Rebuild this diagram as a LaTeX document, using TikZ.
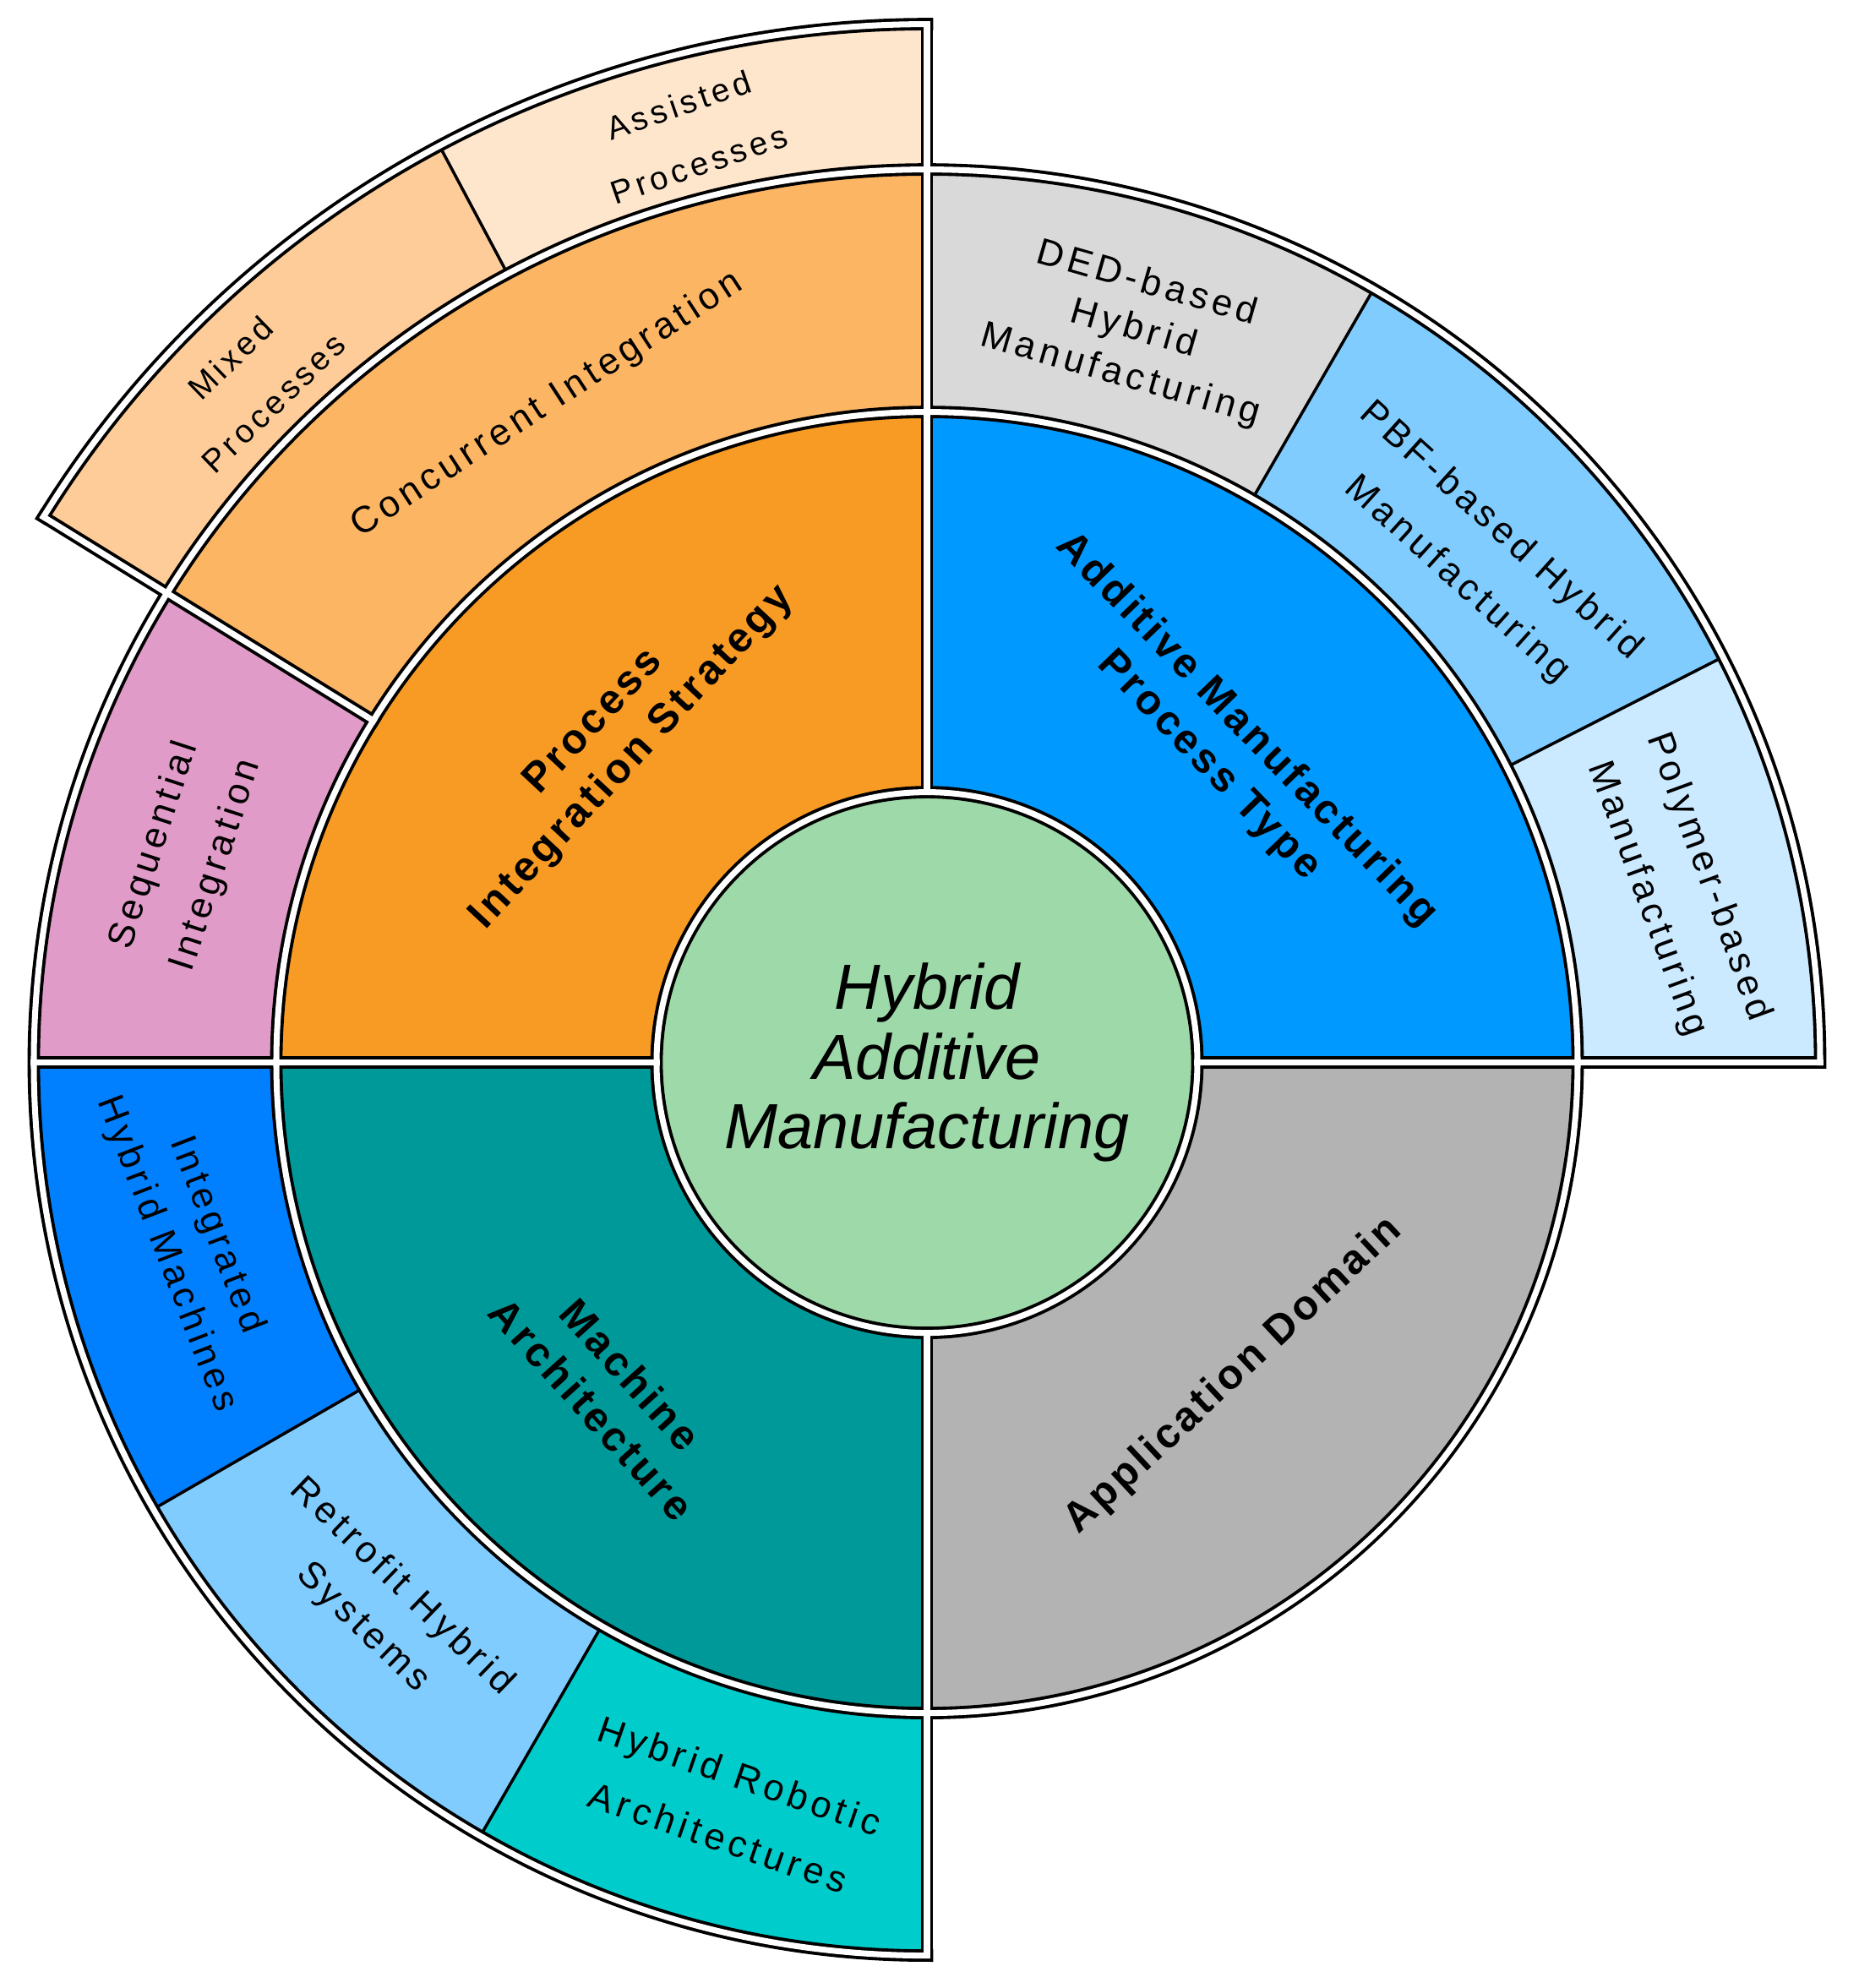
\documentclass[tikz,border=0pt]{standalone}
\usepackage{fontspec}
\setmainfont{Liberation Sans}
\newfontfamily\ringfont[LetterSpace=12]{Liberation Sans}
\newfontfamily\quadfont[LetterSpace=8]{Liberation Sans}

\definecolor{hubgreen}{RGB}{158,217,169}
\definecolor{pisorange}{RGB}{248,155,36}
\definecolor{amblue}{RGB}{0,153,255}
\definecolor{machteal}{RGB}{0,153,153}
\definecolor{domgray}{RGB}{179,179,179}
\definecolor{concorange}{RGB}{252,181,99}
\definecolor{seqpink}{RGB}{225,155,200}
\definecolor{mixpeach}{RGB}{253,204,153}
\definecolor{asspeach}{RGB}{254,230,205}
\definecolor{dedgray}{RGB}{217,217,217}
\definecolor{pbfblue}{RGB}{128,204,255}
\definecolor{polyblue}{RGB}{204,234,255}
\definecolor{intblue}{RGB}{0,128,255}
\definecolor{retroblue}{RGB}{128,204,255}
\definecolor{robcyan}{RGB}{0,204,204}

\begin{document}
\begin{tikzpicture}[
    hub/.style={align=center,inner sep=0pt,font=\itshape\fontsize{21.5}{23.5}\selectfont},
    quadlabel/.style={align=center,font=\quadfont\bfseries\fontsize{14}{17.5}\selectfont},
    ringlabel/.style={align=center,font=\ringfont\fontsize{12.5}{22}\selectfont},
    outerlabel/.style={align=center,font=\ringfont\fontsize{11}{21}\selectfont},
    divider/.style={draw=black,line width=1pt}]
    \useasboundingbox (-10.97,-10.954) rectangle (11.03,12.576);
    % the hub
    \fill[hubgreen] (0,0) circle (3.2);
    \node[hub] (hub) at (0,0) {Hybrid\\Additive\\Manufacturing};
    % fill the quadrants
    \fill[amblue] (0:3.2) arc[start angle=0,end angle=90,radius=3.2] -- (90:7.7) arc[start angle=90,end angle=0,radius=7.7] -- cycle;
    \fill[pisorange] (90:3.2) arc[start angle=90,end angle=180,radius=3.2] -- (180:7.7) arc[start angle=180,end angle=90,radius=7.7] -- cycle;
    \fill[machteal] (180:3.2) arc[start angle=180,end angle=270,radius=3.2] -- (270:7.7) arc[start angle=270,end angle=180,radius=7.7] -- cycle;
    \fill[domgray] (270:3.2) arc[start angle=270,end angle=360,radius=3.2] -- (0:7.7) arc[start angle=360,end angle=270,radius=7.7] -- cycle;
    % fill the second ring
    \fill[polyblue] (0:7.7) arc[start angle=0,end angle=27,radius=7.7] -- (27:10.57) arc[start angle=27,end angle=0,radius=10.57] -- cycle;
    \fill[pbfblue] (27:7.7) arc[start angle=27,end angle=60,radius=7.7] -- (60:10.57) arc[start angle=60,end angle=27,radius=10.57] -- cycle;
    \fill[dedgray] (60:7.7) arc[start angle=60,end angle=90,radius=7.7] -- (90:10.57) arc[start angle=90,end angle=60,radius=10.57] -- cycle;
    \fill[concorange] (90:7.7) arc[start angle=90,end angle=148.3,radius=7.7] -- (148.3:10.57) arc[start angle=148.3,end angle=90,radius=10.57] -- cycle;
    \fill[seqpink] (148.3:7.7) arc[start angle=148.3,end angle=180,radius=7.7] -- (180:10.57) arc[start angle=180,end angle=148.3,radius=10.57] -- cycle;
    \fill[intblue] (180:7.7) arc[start angle=180,end angle=210,radius=7.7] -- (210:10.57) arc[start angle=210,end angle=180,radius=10.57] -- cycle;
    \fill[retroblue] (210:7.7) arc[start angle=210,end angle=240,radius=7.7] -- (240:10.57) arc[start angle=240,end angle=210,radius=10.57] -- cycle;
    \fill[robcyan] (240:7.7) arc[start angle=240,end angle=270,radius=7.7] -- (270:10.57) arc[start angle=270,end angle=240,radius=10.57] -- cycle;
    % fill the third ring
    \fill[asspeach] (90:10.57) arc[start angle=90,end angle=118,radius=10.57] -- (118:12.29) arc[start angle=118,end angle=90,radius=12.29] -- cycle;
    \fill[mixpeach] (118:10.57) arc[start angle=118,end angle=148.3,radius=10.57] -- (148.3:12.29) arc[start angle=148.3,end angle=118,radius=12.29] -- cycle;
    % thin dividers inside a group
    \draw[divider] (118:10.57) -- (118:12.29);
    \draw[divider] (27:7.7) -- (27:10.57);
    \draw[divider] (60:7.7) -- (60:10.57);
    \draw[divider] (210:7.7) -- (210:10.57);
    \draw[divider] (240:7.7) -- (240:10.57);
    % double borders: black pen first, white pen on top
    \foreach \pen/\wd in {black/4.2pt,white/2pt}{
      \draw[\pen,line width=\wd] (hub.center) circle (3.2);
      \draw[\pen,line width=\wd] (hub.center) circle (7.7);
      \draw[\pen,line width=\wd,line cap=rect] (0:10.57) arc[start angle=0,end angle=270,radius=10.57];
      \draw[\pen,line width=\wd,line cap=rect] (90:12.29) arc[start angle=90,end angle=148.3,radius=12.29];
      \draw[\pen,line width=\wd,line cap=rect] (0:3.2) -- (0:10.57);
      \draw[\pen,line width=\wd,line cap=rect] (90:3.2) -- (90:12.29);
      \draw[\pen,line width=\wd,line cap=rect] (180:3.2) -- (180:10.57);
      \draw[\pen,line width=\wd,line cap=rect] (270:3.2) -- (270:10.57);
      \draw[\pen,line width=\wd,line cap=rect] (148.3:7.7) -- (148.3:12.29);
    }
    % quadrant labels
    \node[quadlabel,rotate=47] (strategy) at (134.2:5.32) {Process\\Integration Strategy};
    \node[quadlabel,rotate=-46] (amtype) at (46.3:5.15) {Additive Manufacturing\\Process Type};
    \node[quadlabel,rotate=-48] (machine) at (226.2:5.40) {Machine\\Architecture};
    \node[quadlabel,rotate=43] (domain) at (-45.6:5.19) {Application Domain};
    % second ring labels
    \node[ringlabel,rotate=33] (concurrent) at (120:8.99) {Concurrent Integration};
    \node[ringlabel,rotate=72] (sequential) at (164.4:9.11) {Sequential\\Integration};
    \node[ringlabel,rotate=-16,font=\ringfont\fontsize{12.5}{16}\selectfont] (ded) at (74.25:9.01) {DED-based\\Hybrid\\Manufacturing};
    \node[ringlabel,rotate=-42] (pbf) at (42.6:8.87) {PBF-based Hybrid\\Manufacturing};
    \node[ringlabel,rotate=-70] (polymer) at (13.1:9.12) {Polymer-based\\Manufacturing};
    \node[ringlabel,rotate=-69,font=\ringfont\fontsize{12.5}{18}\selectfont] (integrated) at (193.9:8.97) {Integrated\\Hybrid Machines};
    \node[ringlabel,rotate=-44,font=\ringfont\fontsize{12.5}{19}\selectfont] (retrofit) at (225:9.12) {Retrofit Hybrid\\Systems};
    \node[ringlabel,rotate=-19] (robotic) at (255.1:9.11) {Hybrid Robotic\\Architectures};
    % third ring labels
    \node[outerlabel,rotate=44] (mixed) at (134.7:11.36) {Mixed\\Processes};
    \node[outerlabel,rotate=19] (assisted) at (104.4:11.34) {Assisted\\Processes};
\end{tikzpicture}
\end{document}
